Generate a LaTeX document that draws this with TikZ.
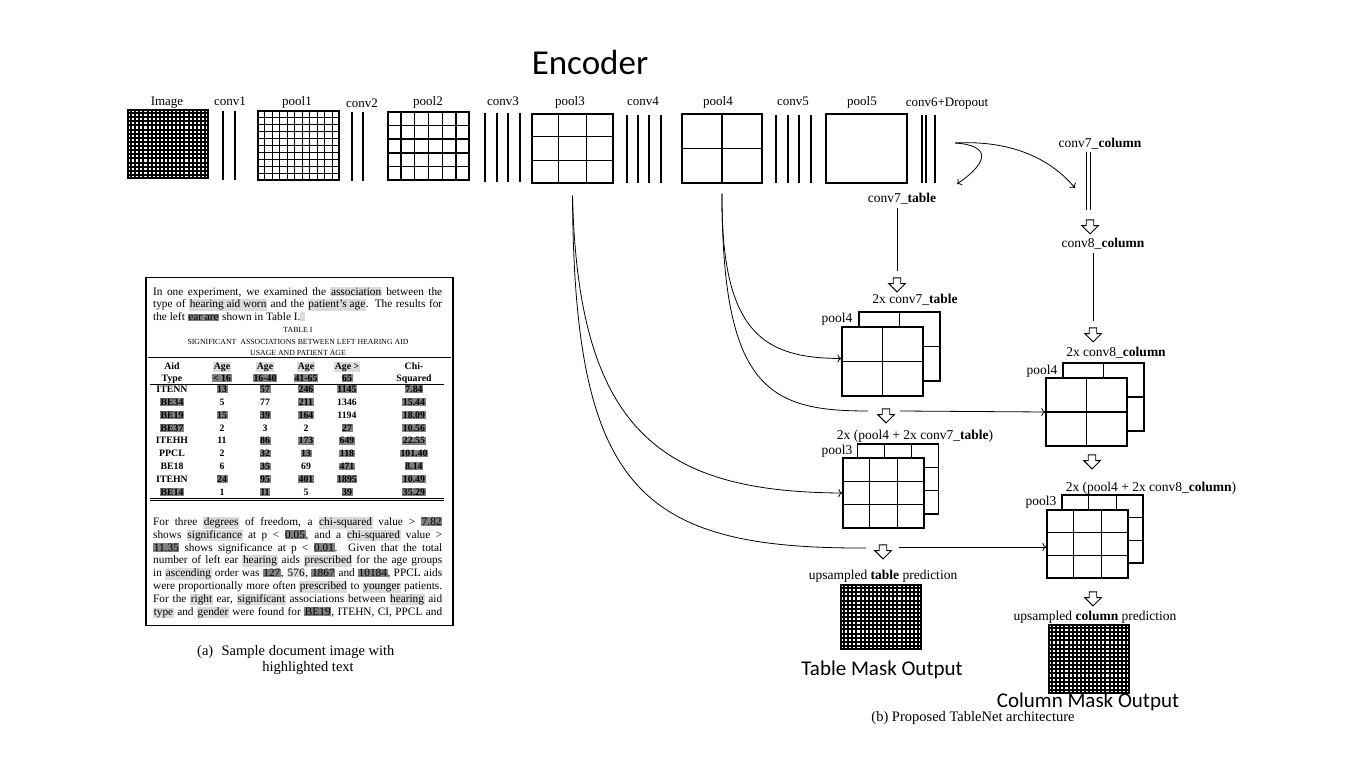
\documentclass[tikz,border=0pt]{standalone}
\usepackage{fontspec}
\setmainfont{Liberation Serif}
\newfontfamily\calibri{Carlito}
\usetikzlibrary{calc,arrows.meta,shapes.arrows}
\definecolor{hlD}{gray}{0.5}
\definecolor{hlL}{gray}{0.86}
\newcommand\hl[1]{{\fboxsep=0.6pt\colorbox{hlD}{#1}}}
\newcommand\lh[1]{{\fboxsep=0.6pt\colorbox{hlL}{#1}}}
\newcommand\jl[1]{\makebox[289pt][s]{#1}}
\newcommand\glines[4][1.1pt]{%
 \pgfmathtruncatemacro\gnx{#3-1}%
 \pgfmathtruncatemacro\gny{#4-1}%
 \ifnum\gnx>0 \foreach \i in {1,...,\gnx}{\draw[line width=#1] ($(#2.south west)!\i/#3!(#2.south east)$) -- ($(#2.north west)!\i/#3!(#2.north east)$);}\fi
 \ifnum\gny>0 \foreach \i in {1,...,\gny}{\draw[line width=#1] ($(#2.south west)!\i/#4!(#2.north west)$) -- ($(#2.south east)!\i/#4!(#2.north east)$);}\fi}
\newcommand\trow[8]{%
 \node[tc] (r#1a) at (172,#2) {#3};
 \node[tc] (r#1b) at (222,#2) {#4};
 \node[tc] (r#1c) at (265,#2) {#5};
 \node[tc] (r#1d) at (306,#2) {#6};
 \node[tc] (r#1e) at (347,#2) {#7};
 \node[tc] (r#1f) at (414,#2) {#8};}
\begin{document}
\begin{tikzpicture}[x=1pt,y=-1pt,
 box/.style={draw, line width=1.3pt, inner sep=0pt, fill=white},
 dbox/.style={draw, line width=2pt, inner sep=0pt, fill=white},
 lbl/.style={font=\fontsize{13}{15}\selectfont, inner sep=0pt, anchor=base},
 lbs/.style={font=\fontsize{13.5}{15}\selectfont, inner sep=0pt, anchor=base},
 cv/.style={line width=1.1pt},
 ln/.style={line width=0.8pt},
 con/.style={line width=0.8pt, -{To[length=4pt,width=8pt]}},
 harrow/.style={single arrow, draw, fill=white, line width=0.9pt, shape border rotate=270, minimum height=14pt, minimum width=16pt, single arrow head extend=4.5pt, inner sep=3.3pt},
 dl/.style={anchor=base west, inner sep=0pt, font=\fontsize{11.3}{13}\selectfont},
 tt/.style={anchor=base, inner sep=0pt, font=\fontsize{7.8}{9}\selectfont},
 tc/.style={anchor=base, inner sep=0pt, font=\fontsize{9.8}{11}\selectfont\bfseries},
 big/.style={font=\calibri\fontsize{21}{24}\selectfont, inner sep=0pt}]
\fill[white] (0,0) rectangle (1354,765);
\useasboundingbox (0,0) rectangle (1354,765);

\node[font=\calibri\fontsize{35}{40}\selectfont, inner sep=0pt] (enc) at (590,62) {Encoder};

% ---------- encoder ----------
\node[dbox, minimum width=80pt, minimum height=68pt] (img) at (168,144) {};
\glines[2pt]{img}{20}{17}
\node[box, minimum width=81pt, minimum height=69pt] (p1) at (298.5,145.5) {};
\glines[1.3pt]{p1}{11}{10}
\node[box, minimum width=81pt, minimum height=68pt] (p2) at (428.5,146) {};
\glines[1.3pt]{p2}{6}{5}
\node[box, minimum width=81pt, minimum height=69pt] (p3) at (572.5,148.5) {};
\glines{p3}{3}{3}
\node[box, minimum width=80pt, minimum height=69pt] (p4) at (722,148.5) {};
\glines{p4}{2}{2}
\node[box, minimum width=81pt, minimum height=69pt] (p5) at (866.5,148.5) {};

\foreach \x in {223,235} \draw[cv] (\x,111) -- (\x,180);
\foreach \x in {352,363} \draw[cv] (\x,112) -- (\x,181);
\foreach \x in {485,497,508,520} \draw[cv] (\x,113) -- (\x,182);
\foreach \x in {627,638,649,661} \draw[cv] (\x,115) -- (\x,183);
\foreach \x in {776,788,799,811} \draw[cv] (\x,115) -- (\x,183);
\foreach \x in {922,926,935} \draw[cv] (\x,115) -- (\x,183);

\node[lbl] (limg) at (167,106) {Image};
\node[lbl] (lc1) at (230,106) {conv1};
\node[lbl] (lp1) at (297,106) {pool1};
\node[lbl] (lc2) at (362,108) {conv2};
\node[lbl] (lp2) at (428,106) {pool2};
\node[lbl] (lc3) at (503,106) {conv3};
\node[lbl] (lp3) at (570,106) {pool3};
\node[lbl] (lc4) at (643,106) {conv4};
\node[lbl] (lp4) at (718,106) {pool4};
\node[lbl] (lc5) at (793,106) {conv5};
\node[lbl] (lp5) at (862,106) {pool5};
\node[lbl] (lc6) at (947,107) {conv6+Dropout};

% ---------- branch heads ----------
\node[lbs] (c7t) at (902,202) {conv7\_\textbf{table}};
\node[lbs] (c7c) at (1100,147) {conv7\_\textbf{column}};
\coordinate (c6o) at (955,143);
\coordinate (t7tip) at (957,184);
\coordinate (c7tip) at (1075,188);
\draw[con] (c6o) .. controls (988,145) and (992,160) .. (t7tip);
\draw[con] (c6o) .. controls (1010,140) and (1050,158) .. (c7tip);
\draw[ln] (1086,152) -- (1086,210);
\draw[ln] (1090,152) -- (1090,210);

% ---------- skip connectors ----------
\coordinate (p3o) at ($(p3.south)+(0,12)$);
\coordinate (p4o) at ($(p4.south)+(0,10)$);
\coordinate (g1) at (866,548);
\coordinate (g2) at (899,547);
\coordinate (g3) at (868,411);
\coordinate (g4) at (900,411);

% ---------- table decoder ----------
\node[harrow] (ha7t) at (897,283) {};
\draw[ln] ($(ha7t.north |- c7t.south)+(0,4)$) -- ($(ha7t.north)+(0,-6)$);
\node[lbs] (l2t) at (915,303) {2x conv7\_\textbf{table}};
\node[box, minimum width=81pt, minimum height=69pt] (t4b) at (899.5,346.5) {};
\glines{t4b}{2}{2}
\node[box, minimum width=81pt, minimum height=69pt] (t4f) at (882.5,361.5) {};
\glines{t4f}{2}{2}
\node[lbs] (lt4) at (837,322) {pool4};
\node[harrow] (ha4t) at (886,414) {};
\node[lbs] (l3t) at (915,439) {2x (pool4 + 2x conv7\_\textbf{table})};
\node[box, minimum width=81pt, minimum height=70pt] (t3b) at (898,479) {};
\glines{t3b}{3}{3}
\node[box, minimum width=81pt, minimum height=70pt] (t3f) at (883.5,493) {};
\glines{t3f}{3}{3}
\node[lbs] (lt3) at (837,454) {pool3};
\node[harrow] (ha3t) at (883,550) {};
\node[lbs] (lut) at (883,579) {upsampled \textbf{table} prediction};
\node[dbox, minimum width=80pt, minimum height=64pt] (tm) at (881,617) {};
\glines[2pt]{tm}{20}{16}
\node[big] (tmo) at (882,670) {Table Mask Output};

% ---------- column decoder ----------
\node[harrow] (ha7c) at (1090,225) {};
\node[lbs] (c8c) at (1103,247) {conv8\_\textbf{column}};
\node[harrow] (ha8c) at (1093,333) {};
\draw[ln] ($(ha8c.north |- c8c.south)+(0,4)$) -- ($(ha8c.north)+(0,-6)$);
\node[lbs] (l2c) at (1116,356) {2x conv8\_\textbf{column}};
\node[box, minimum width=81pt, minimum height=68pt] (c4b) at (1103.5,397) {};
\glines{c4b}{2}{2}
\node[box, minimum width=81pt, minimum height=68pt] (c4f) at (1086.5,412) {};
\glines{c4f}{2}{2}
\node[lbs] (lc4p) at (1042,374) {pool4};
\node[harrow] (ha4c) at (1092,460) {};
\node[lbs] (l3c) at (1151,491) {2x (pool4 + 2x conv8\_\textbf{column})};
\node[box, minimum width=81pt, minimum height=68pt] (c3b) at (1102.5,529) {};
\glines{c3b}{3}{3}
\node[box, minimum width=81pt, minimum height=68pt] (c3f) at (1087.5,544) {};
\glines{c3f}{3}{3}
\node[lbs] (lc3p) at (1041,505) {pool3};
\node[harrow] (ha3c) at (1093,597) {};
\node[lbs] (luc) at (1095,620) {upsampled \textbf{column} prediction};
\node[dbox, minimum width=80pt, minimum height=68pt] (cm) at (1089,659) {};
\glines[2pt]{cm}{20}{17}
\node[lbs, font=\fontsize{14.5}{16}\selectfont] (capb) at (973,721) {(b) Proposed TableNet architecture};
\node[big] (cmo) at (1088,702) {Column Mask Output};

% connectors
\draw[con] (p3o) .. controls (578,430) and (660,492) .. (t3f.west);
\draw[ln] (p3o) .. controls (574,490) and (640,549) .. (g1);
\draw[con] (g2) -- ([yshift=-3pt]c3f.west);
\draw[con] (p4o) .. controls (721,335) and (765,358) .. ([yshift=3pt]t4f.west);
\draw[ln] (p4o) .. controls (722,390) and (770,411) .. (g3);
\draw[con] (g4) -- (c4f.west);

% ---------- sample document ----------
\node[draw, line width=1.8pt, minimum width=307pt, minimum height=348pt, inner sep=0pt] (doc) at (299.5,451.5) {};
\node[dl] (pa1) at (153,295) {\jl{In one experiment, we examined the \lh{association} between the}};
\node[dl] (pa2) at (153,307.5) {\jl{type of \lh{hearing aid worn} and the \lh{patient's age}. The results for}};
\node[dl] (pa3) at (153,320) {the left \hl{ear are} shown in Table I.\lh{\phantom{l}}};
\node[tt] (tt1) at (298,332) {TABLE I};
\node[tt] (tt2) at (298,344) {SIGNIFICANT\ \ ASSOCIATIONS BETWEEN LEFT HEARING AID};
\node[tt] (tt3) at (298,355) {USAGE AND PATIENT AGE};
\draw[line width=1pt] (148,357.5) -- (451,357.5);
\trow{h}{369.5}{Aid}{\lh{Age}}{\lh{Age}}{\lh{Age}}{\lh{Age >}}{Chi-}
\trow{k}{381.5}{Type}{\hl{< 16}}{\hl{16-40}}{\hl{41-65}}{\hl{65}}{Squared}
\draw[line width=0.9pt] (150,384) -- (444,384);
\trow{a}{392.5}{ITENN}{\hl{13}}{\hl{57}}{\hl{246}}{\hl{1145}}{\hl{7.84}}
\trow{b}{405.4}{\hl{BE34}}{5}{77}{\hl{211}}{1346}{\hl{15.44}}
\trow{c}{418.2}{\hl{BE19}}{\hl{15}}{\hl{39}}{\hl{164}}{1194}{\hl{18.09}}
\trow{d}{431}{\hl{BE37}}{2}{3}{2}{\hl{27}}{\hl{10.56}}
\trow{e}{443.9}{ITEHH}{11}{\hl{86}}{\hl{173}}{\hl{649}}{\hl{22.55}}
\trow{f}{456.7}{PPCL}{2}{\hl{32}}{\hl{13}}{\hl{118}}{\hl{101.40}}
\trow{g}{469.6}{BE18}{6}{\hl{35}}{69}{\hl{471}}{\hl{8.14}}
\trow{i}{482.4}{ITEHN}{\hl{24}}{\hl{95}}{\hl{401}}{\hl{1895}}{\hl{10.49}}
\trow{j}{495.2}{\hl{BE14}}{1}{\hl{11}}{5}{\hl{39}}{\hl{35.29}}
\draw[line width=0.8pt] (150,498.5) -- (444,498.5);
\draw[line width=0.8pt] (150,500.5) -- (444,500.5);
\node[dl] (pb1) at (153,525.5) {\jl{For three \lh{degrees} of freedom, a \lh{chi-squared} value > \hl{7.82}}};
\node[dl] (pb2) at (153,538.3) {\jl{shows \lh{significance} at p < \hl{0.05}, and a \lh{chi-squared} value >}};
\node[dl] (pb3) at (153,551.1) {\jl{\hl{11.35} shows significance at p < \hl{0.01}. Given that the total}};
\node[dl] (pb4) at (153,563.9) {\jl{number of left ear \lh{hearing} aids \lh{prescribed} for the age groups}};
\node[dl] (pb5) at (153,576.7) {\jl{in \lh{ascending} order was \hl{127}, \lh{576}, \hl{1867} and \hl{10184}, PPCL aids}};
\node[dl] (pb6) at (153,589.5) {\jl{were proportionally more often \lh{prescribed} to \lh{younger} patients.}};
\node[dl] (pb7) at (153,602.3) {\jl{For the \lh{right} ear, \lh{significant} associations between \lh{hearing} aid}};
\node[dl] (pb8) at (153,615.1) {\jl{\lh{type} and \lh{gender} were found for \hl{BE19}, ITEHN, CI, PPCL and}};
\node[lbl, font=\fontsize{14.5}{16}\selectfont, anchor=base west] (capa) at (197,655) {(a)};
\node[lbl, font=\fontsize{14.5}{16}\selectfont] (capa1) at (308,655) {Sample document image with};
\node[lbl, font=\fontsize{14.5}{16}\selectfont] (capa2) at (308,671) {highlighted text};
\end{tikzpicture}
\end{document}
